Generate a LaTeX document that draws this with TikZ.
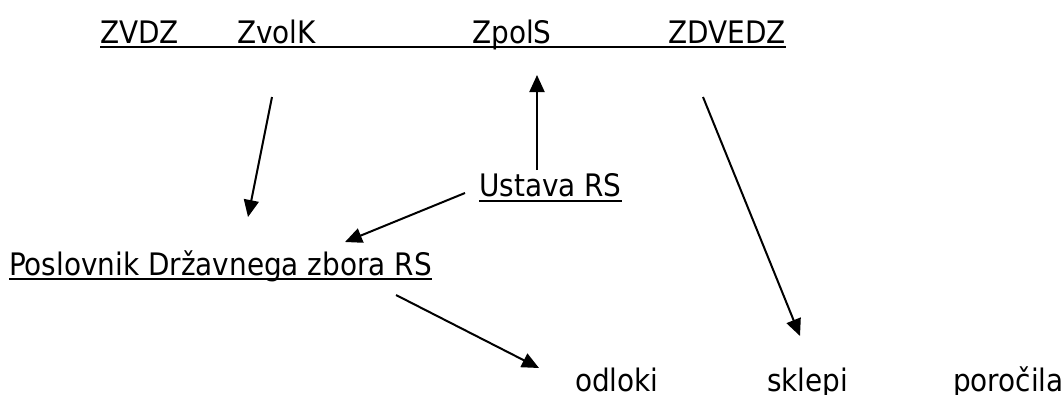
\documentclass[tikz,border=0pt]{standalone}
\usepackage{fontspec}
\setmainfont{DejaVu Sans Condensed}
\usepackage{tikz}
\usetikzlibrary{arrows.meta,positioning,calc}

\begin{document}
\begin{tikzpicture}[
    x=1pt, y=-1pt,
    act/.style={inner sep=0pt, anchor=base west, font=\fontsize{31}{37}\selectfont},
    actend/.style={act, anchor=base east},
    uline/.style={line width=2pt},
    link/.style={line width=2pt, -{Triangle[length=17pt, width=15pt]}}
]
    \useasboundingbox (0,0) rectangle (1064,394);

    % Laws on top
    \node[act] (zvdz) at (100,43) {ZVDZ};
    \node[act] (zvolk) at (237,43) {ZvolK};
    \node[act] (zpols) at (472,43) {ZpolS};
    \node[actend] (zdvedz) at (786,43) {ZDVEDZ};
    \draw[uline] ($(zvdz.base west)+(0,4)$) -- ($(zdvedz.base east)+(0,4)$);

    % Constitution
    \node[act] (ustava) at (479,196) {Ustava RS};
    \draw[uline] ($(ustava.base west)+(0,5)$) -- ($(ustava.base east)+(0,5)$);

    % Rules of procedure
    \node[act] (poslovnik) at (9,275) {Poslovnik Državnega zbora RS};
    \draw[uline] ($(poslovnik.base west)+(0,4)$) -- ($(poslovnik.base east)+(0,4)$);

    % Acts
    \node[act] (odloki) at (575,391) {odloki};
    \node[act] (sklepi) at (767,391) {sklepi};
    \node[act] (porocila) at (953,391) {poročila};

    % Arrows
    \draw[link] ($(zvolk.base west)+(35,54)$) -- ($(poslovnik.base west)+(239,-58)$);
    \draw[link] ($(ustava.base west)+(58,-26)$) -- ($(zpols.base west)+(65,32)$);
    \draw[link] ($(ustava.base west)+(-14,-3)$) -- ($(poslovnik.base west)+(336,-33)$);
    \draw[link] ($(poslovnik.base west)+(387,20)$) -- ($(odloki.base west)+(-36,-23)$);
    \draw[link] ($(zdvedz.base east)+(-83,54)$) -- ($(sklepi.base west)+(33,-55)$);

\end{tikzpicture}
\end{document}
